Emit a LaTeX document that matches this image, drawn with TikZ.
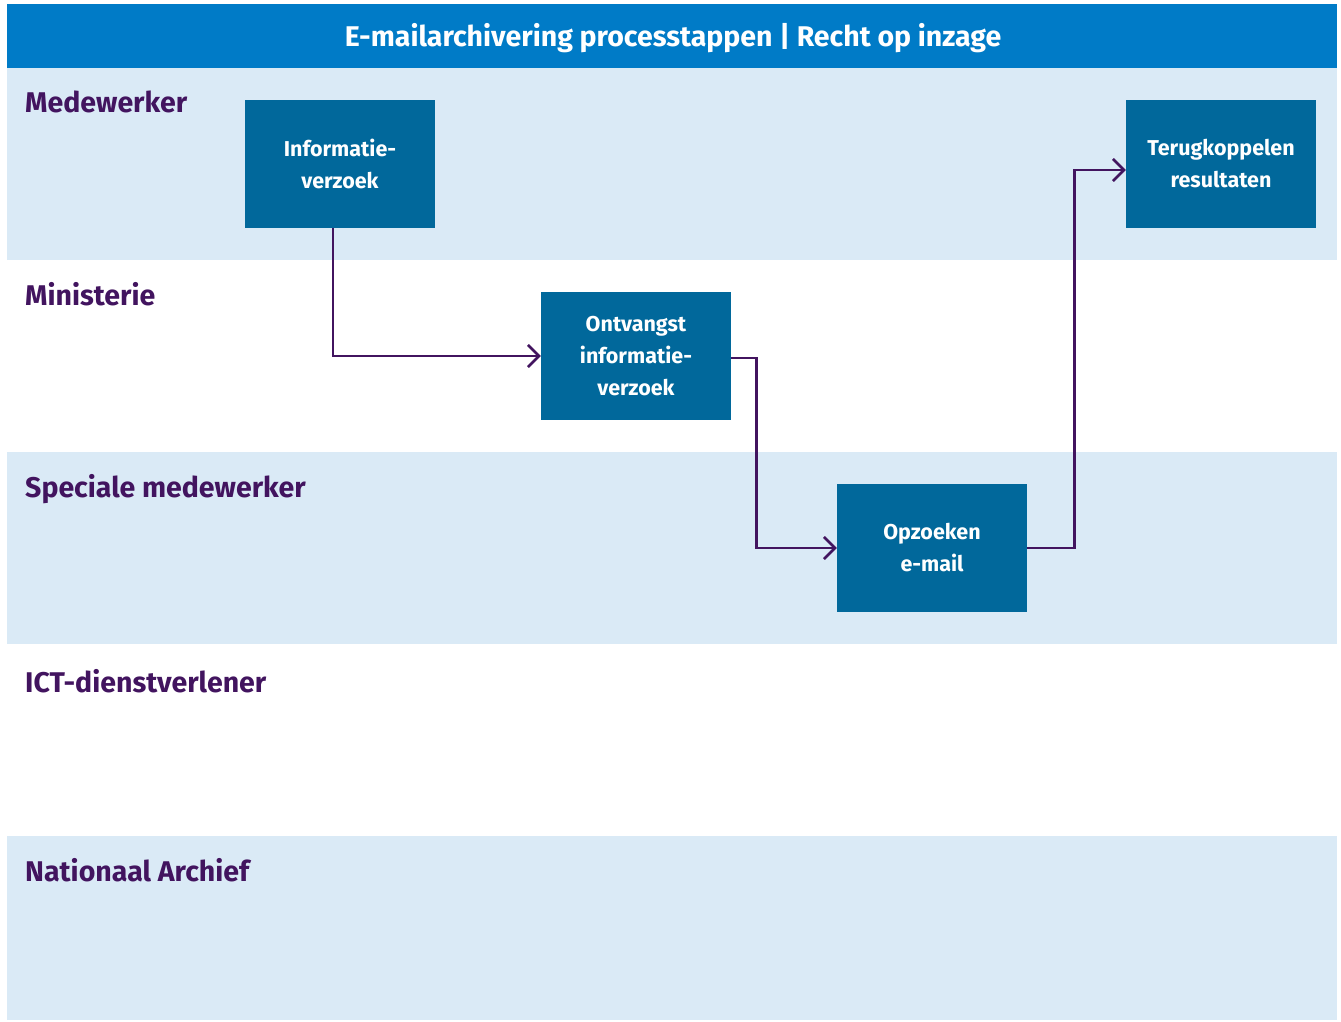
\documentclass[tikz,border=0pt]{standalone}
\usepackage{fontspec}
\setmainfont{Fira Sans}
\usetikzlibrary{arrows.meta,calc}
\definecolor{titleblue}{HTML}{007BC7}
\definecolor{laneblue}{HTML}{DAEAF6}
\definecolor{boxblue}{HTML}{01689B}
\definecolor{purp}{HTML}{42145F}
\tikzset{
  lanebg/.style={fill=laneblue, draw=none},
  lanelabel/.style={anchor=base west, text=purp, font=\fontsize{28.5}{32}\selectfont\bfseries, inner sep=0pt},
  stepbox/.style={fill=boxblue, draw=none, text=white, minimum width=190pt, minimum height=128pt, align=center, font=\fontsize{21.5}{32}\selectfont\bfseries, inner sep=0pt},
  flow/.style={draw=purp, line width=2.6pt, -{Straight Barb[length=11pt,width=22pt,line width=2.6pt]}}
}
\begin{document}
\begin{tikzpicture}[x=1pt,y=-1pt]
\useasboundingbox (0,0) rectangle (1341,1022);
\fill[white] (0,0) rectangle (1341,1022);
% title
\fill[titleblue] (7,4) rectangle (1337,68);
\node[text=white, font=\fontsize{28.5}{32}\selectfont\bfseries] (title) at (673,38) {E-mailarchivering processtappen | Recht op inzage};
% lanes
\fill[lanebg] (7,68) rectangle (1337,260);
\fill[lanebg] (7,452) rectangle (1337,644);
\fill[lanebg] (7,836) rectangle (1337,1020);
\node[lanelabel] (l1) at (25,113) {Medewerker};
\node[lanelabel] (l2) at (25,305) {Ministerie};
\node[lanelabel] (l3) at (25,497) {Speciale medewerker};
\node[lanelabel] (l4) at (25,692) {ICT-dienstverlener};
\node[lanelabel] (l5) at (25,881) {Nationaal Archief};
% boxes
\node[stepbox] (b1) at (340,164) {Informatie-\\verzoek};
\node[stepbox] (b2) at (636,356) {Ontvangst\\informatie-\\verzoek};
\node[stepbox] (b3) at (932,548) {Opzoeken\\e-mail};
\node[stepbox] (b4) at (1221,164) {Terugkoppelen\\resultaten};
% connectors
\draw[flow] ($(b1.south)+(-7,0)$) |- (b2.west);
\draw[flow] ($(b2.east)+(0,2)$) -- ++(25,0) |- (b3.west);
\draw[flow] (b3.east) -- ++(47,0) |- ($(b4.west)+(0,6)$);
\end{tikzpicture}
\end{document}
